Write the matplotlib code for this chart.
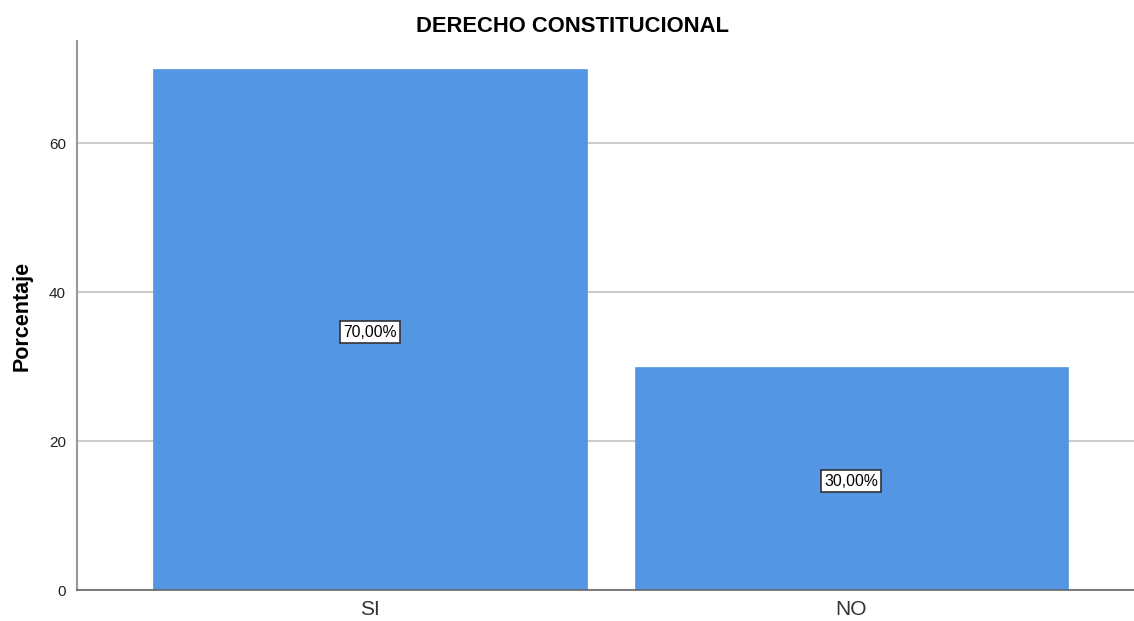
import matplotlib
matplotlib.use("Agg")
import matplotlib.pyplot as plt

plt.rcParams['font.family'] = ['Liberation Sans', 'DejaVu Sans']

categories = ["SI", "NO"]
values = [70.0, 30.0]
labels = ["70,00%", "30,00%"]
yticks = [0, 20, 40, 60]

fig = plt.figure(figsize=(11.34, 6.21), dpi=100)
ax = fig.add_axes([77/1134, 31/621, 1 - 77/1134, (590-41)/621])

x = list(range(len(categories)))
ax.bar(x, values, width=0.9, color="#5596E4", edgecolor="#5596E4", linewidth=0.5, zorder=2)
for xi, v, lab in zip(x, values, labels):
    ax.annotate(lab, (xi, v/2), xytext=(0, -2), textcoords="offset points",
                ha="center", va="center", fontsize=11.3, color="black", zorder=3,
                bbox=dict(boxstyle="square,pad=0.2", facecolor="white", edgecolor="#333333", linewidth=1.2))

ax.set_xlim(-0.6085, 1.587)
ax.set_ylim(0, 73.7)
ax.set_xticks(x)
ax.set_xticklabels(categories, fontsize=15, color="#333333")
ax.set_yticks(yticks)
ax.set_yticklabels([str(t) for t in yticks], fontsize=11, color="#222222")
ax.tick_params(axis="both", length=0)
ax.tick_params(axis="x", pad=7)
ax.tick_params(axis="y", pad=8)
ax.yaxis.grid(True, color="#CCCCCC", linewidth=1.5, zorder=0)
ax.set_axisbelow(True)
for s in ["top", "right"]:
    ax.spines[s].set_visible(False)
ax.spines["left"].set_color("#999999")
ax.spines["left"].set_linewidth(1.5)
ax.spines["bottom"].set_color("#666666")
ax.spines["bottom"].set_linewidth(1.2)

ax.set_ylabel("Porcentaje", fontsize=15.5, fontweight="bold")
ax.yaxis.set_label_coords(-0.042, 0.5)
fig.text(572/1134, 1 - 27/621, "DERECHO CONSTITUCIONAL", ha="center", va="center",
         fontsize=15.8, fontweight="bold")

fig.savefig("out.png", dpi=100)
